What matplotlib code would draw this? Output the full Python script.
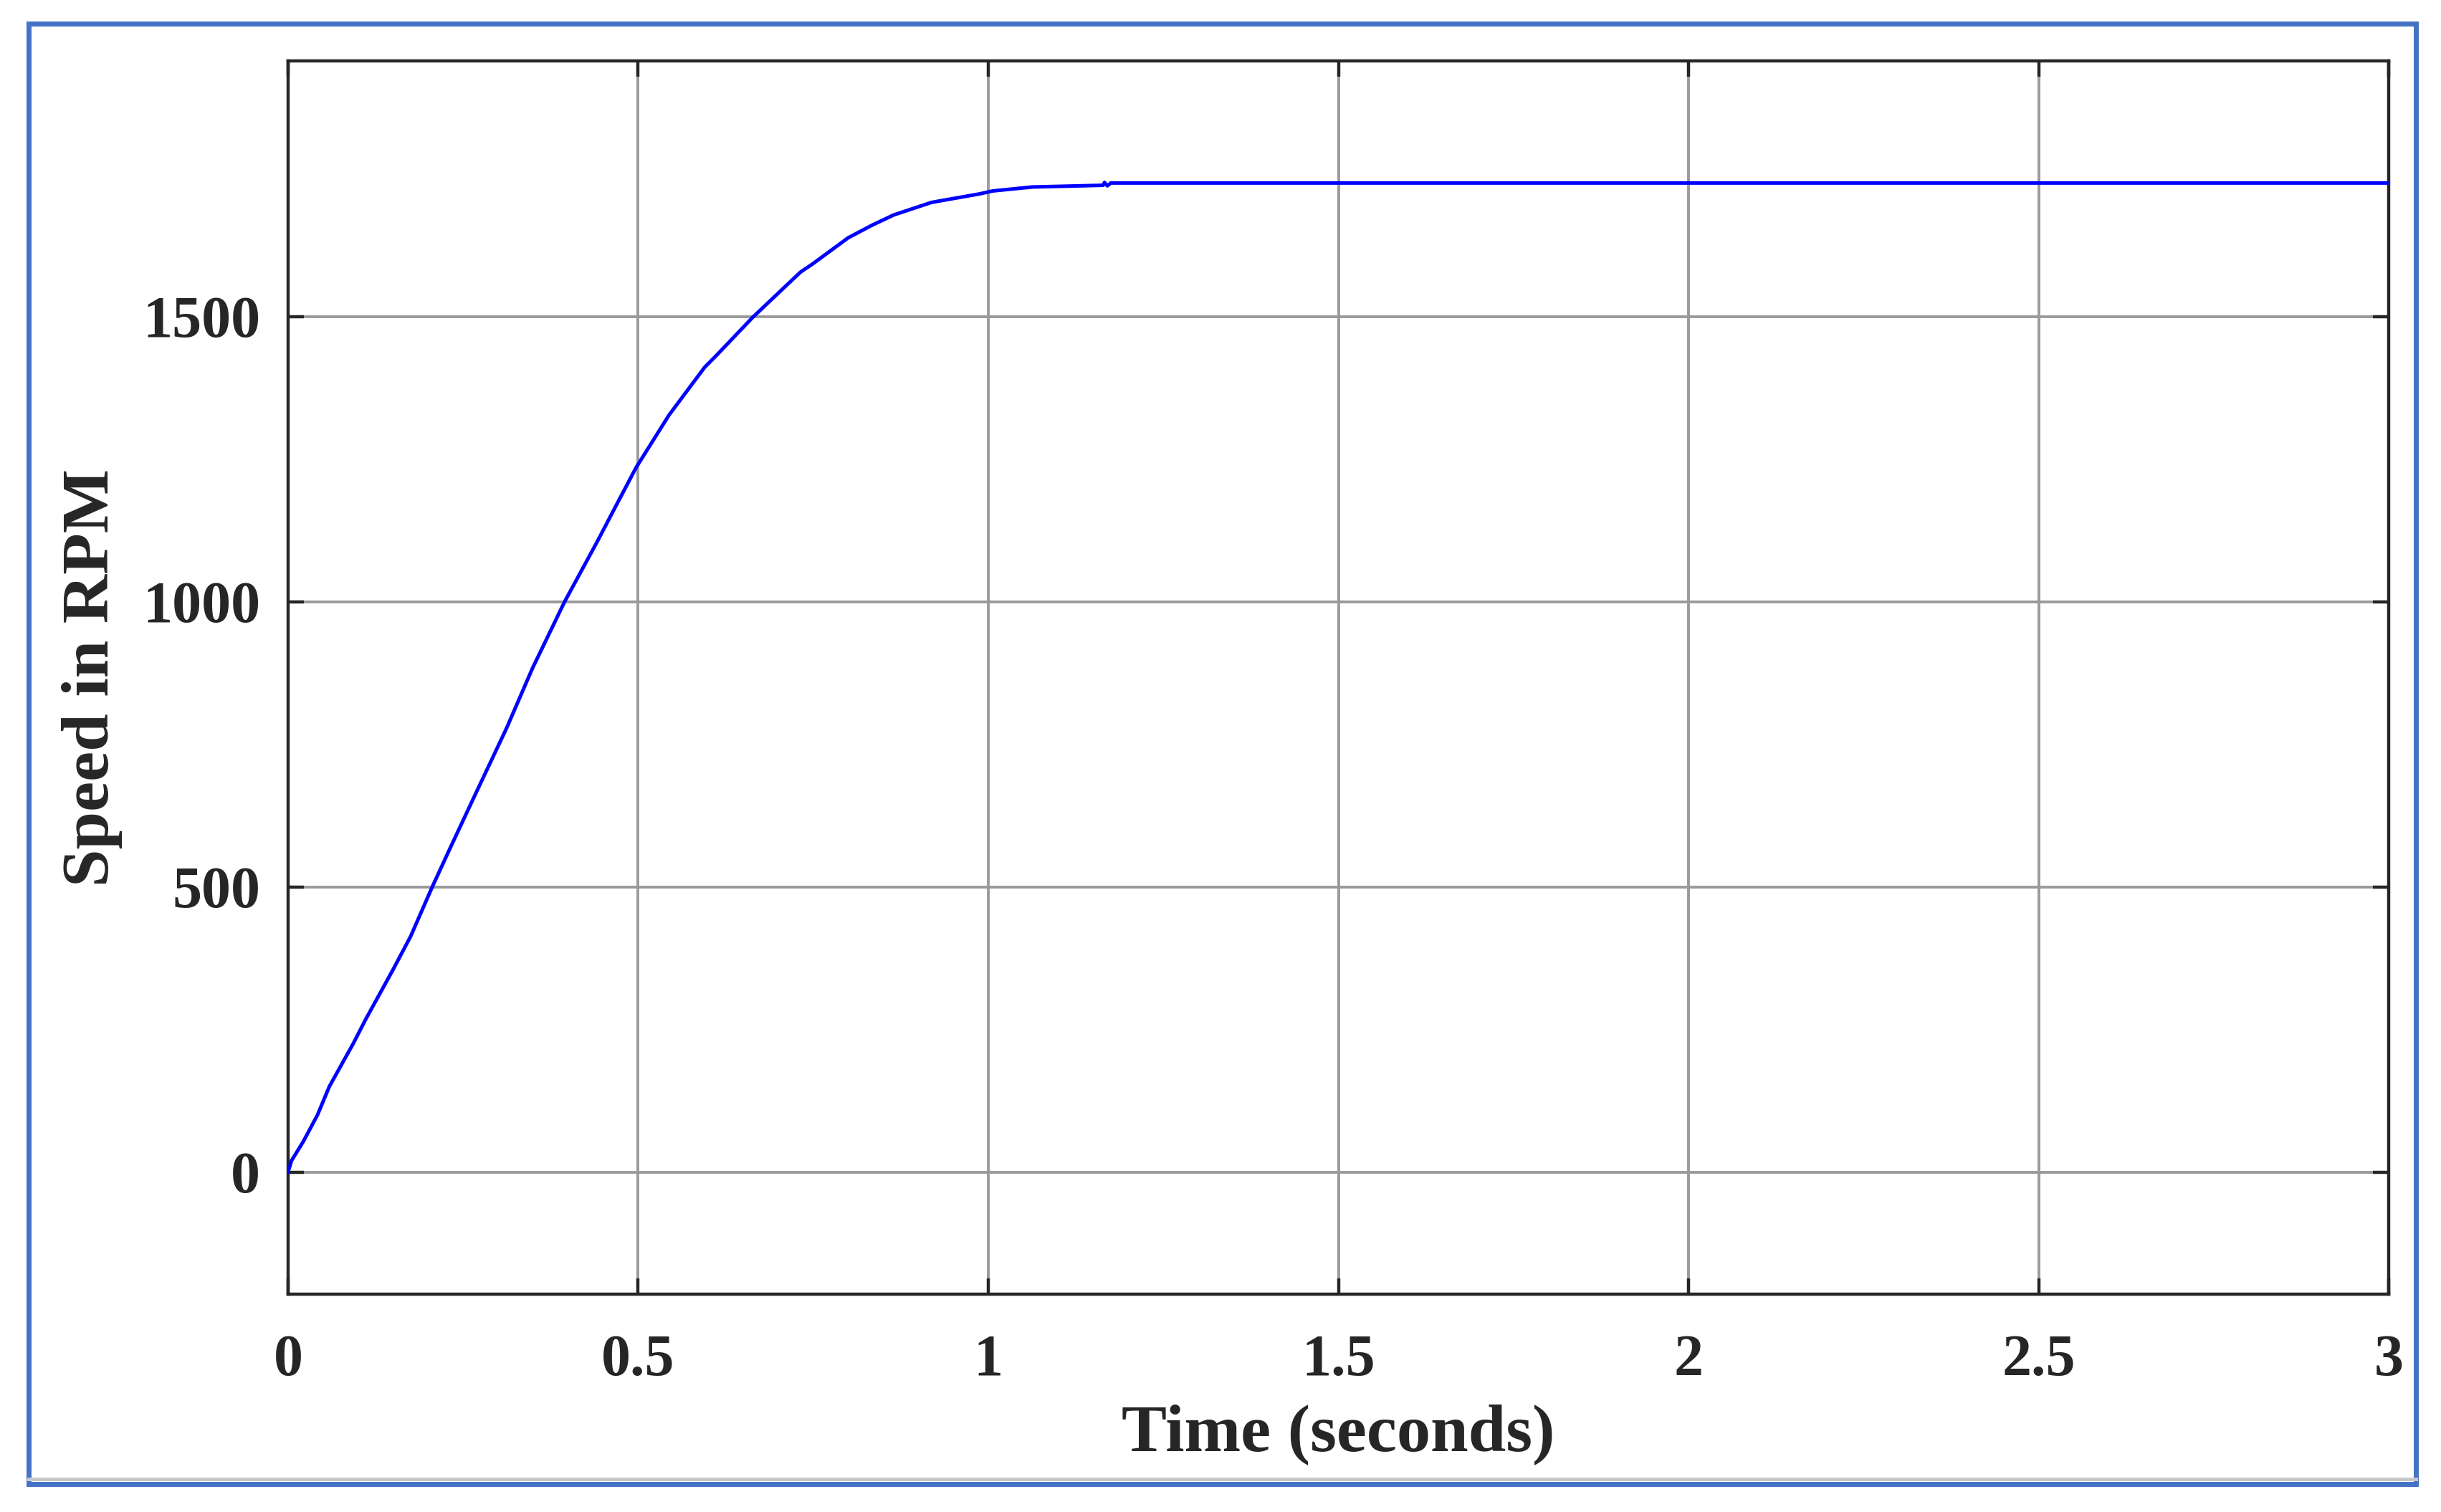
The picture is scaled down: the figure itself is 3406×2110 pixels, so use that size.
import matplotlib
matplotlib.use("Agg")
import matplotlib.pyplot as plt
from matplotlib.patches import Rectangle
from matplotlib.lines import Line2D

# speed response
time_s = [0.0, 0.005, 0.022, 0.042, 0.059, 0.093, 0.111, 0.150, 0.175, 0.206,
          0.230, 0.267, 0.312, 0.349, 0.395, 0.441, 0.467, 0.497, 0.544, 0.595,
          0.612, 0.664, 0.732, 0.749, 0.800, 0.834, 0.865, 0.919, 0.988, 1.006,
          1.063, 1.164, 1.166, 1.170, 1.175, 3.0]
speed_rpm = [0, 20, 54, 100, 150, 225, 268, 355, 413, 500,
             564, 661, 778, 883, 1000, 1104, 1165, 1235, 1327, 1411,
             1432, 1499, 1578, 1592, 1638, 1660, 1678, 1700, 1715, 1720,
             1727, 1730, 1735, 1729, 1734, 1734]

x_ticks = [0, 0.5, 1, 1.5, 2, 2.5, 3]
x_tick_labels = ["0", "0.5", "1", "1.5", "2", "2.5", "3"]
y_ticks = [0, 500, 1000, 1500]
y_tick_labels = ["0", "500", "1000", "1500"]

plt.rcParams["font.family"] = ["Liberation Serif", "DejaVu Serif"]
plt.rcParams["font.weight"] = "bold"

fig = plt.figure(figsize=(17.03, 10.55), dpi=200)
ax = fig.add_axes([0.1180, 0.1441, 0.8606, 0.8156])

ax.plot(time_s, speed_rpm, color="#0000ff", linewidth=1.8, zorder=3)

ax.set_xlim(0, 3)
ax.set_ylim(-214, 1948)
ax.set_xticks(x_ticks)
ax.set_xticklabels(x_tick_labels)
ax.set_yticks(y_ticks)
ax.set_yticklabels(y_tick_labels)

ax.grid(True, color="#9a9a9a", linewidth=1.4, linestyle="-")
ax.set_axisbelow(True)
for s in ax.spines.values():
    s.set_linewidth(1.6)
    s.set_color("#262626")
ax.tick_params(direction="in", length=8, width=1.6, color="#262626",
               top=True, right=True, labelsize=29.5, labelcolor="#262626")
ax.tick_params(axis="x", pad=20)
ax.tick_params(axis="y", pad=14)
for lab in ax.get_xticklabels() + ax.get_yticklabels():
    lab.set_fontweight("bold")

ax.set_xlabel("Time (seconds)", fontsize=34, fontweight="bold", color="#262626", labelpad=8)
ax.set_ylabel("Speed in RPM", fontsize=34, fontweight="bold", color="#262626", labelpad=10)

# blue frame around the figure, with a faint shadow line at the bottom
fig.add_artist(Line2D([0.0118, 0.9896], [0.0218, 0.0218], transform=fig.transFigure,
                      color="#c8c8c8", linewidth=1.8))
fig.add_artist(Rectangle((0.0118, 0.0185), 0.9778, 0.9659, transform=fig.transFigure,
                         fill=False, edgecolor="#4472c4", linewidth=2.5))

fig.savefig("out.png", dpi=200)
